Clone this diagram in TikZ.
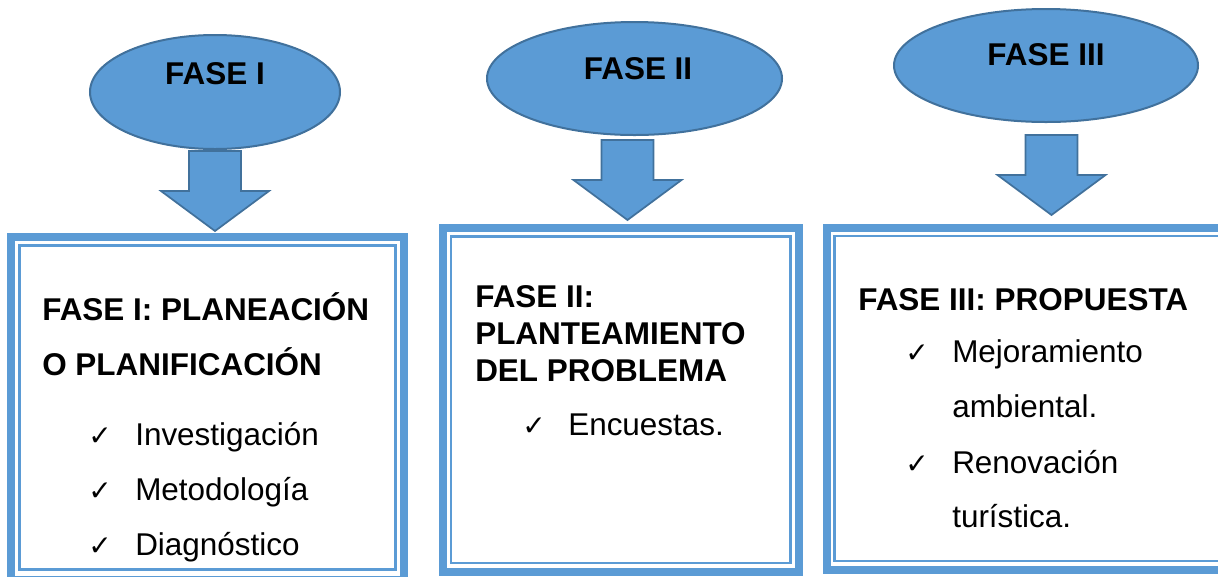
\documentclass[tikz,border=0pt]{standalone}
\usepackage{fontspec}
\setmainfont{Liberation Sans}
\newfontfamily\chkfont{DejaVu Sans}
\usetikzlibrary{shapes.geometric}
\definecolor{fillblue}{HTML}{5B9BD5}
\definecolor{edgeblue}{HTML}{41719C}
\tikzset{
  phase/.style={ellipse, draw=edgeblue, fill=fillblue, line width=1.5pt, inner sep=0pt},
  phasetxt/.style={anchor=base, inner sep=0pt, font=\fontsize{23.6}{28}\selectfont\bfseries},
  titletxt/.style={anchor=base west, inner sep=0pt, font=\fontsize{23.6}{28}\selectfont\bfseries},
  itemtxt/.style={anchor=base west, inner sep=0pt, font=\fontsize{23.6}{28}\selectfont},
  chkmark/.style={anchor=base west, inner sep=0pt, font=\chkfont\fontsize{21}{24}\selectfont},
  outerframe/.style={draw=fillblue, line width=6pt},
  innerframe/.style={draw=fillblue, line width=1.9pt},
  blockarrow/.style={draw=edgeblue, fill=fillblue, line width=1.3pt, line join=miter},
  downarr/.pic={\path[blockarrow] (-26,0) -- (26,0) -- (26,40) -- (54,40) -- (0,80) -- (-54,40) -- (-26,40) -- cycle;}
}
\begin{document}
\begin{tikzpicture}[x=0.75pt, y=-0.75pt]
\useasboundingbox (0,0) rectangle (1218,576);
\clip (0,0) rectangle (1218,576);

% ellipses
\node[phase, minimum width=187.5pt, minimum height=85.5pt] (e1) at (215,92) {};
\node[phase, minimum width=221.25pt, minimum height=84.75pt] (e2) at (634.5,78.5) {};
\node[phase, minimum width=228pt, minimum height=84.75pt] (e3) at (1046,65.5) {};
\node[phasetxt] (e1t) at (215,84) {FASE I};
\node[phasetxt] (e2t) at (638,79) {FASE II};
\node[phasetxt] (e3t) at (1046,65) {FASE III};

% block arrows
\coordinate (a1) at (215,151);
\coordinate (a2) at (627.5,140);
\coordinate (a3) at (1051.5,135);
\pic at (a1) {downarr};
\pic at (a2) {downarr};
\pic at (a3) {downarr};

% boxes
\coordinate (b1a) at (11,237);   \coordinate (b1b) at (404,580);
\coordinate (b1c) at (19.5,245.5); \coordinate (b1d) at (395.5,569.5);
\coordinate (b2a) at (443,228);  \coordinate (b2b) at (798.5,571.5);
\coordinate (b2c) at (451,236.5); \coordinate (b2d) at (790.5,563);
\coordinate (b3a) at (827,228);  \coordinate (b3b) at (1232,569.5);
\coordinate (b3c) at (834.5,236); \coordinate (b3d) at (1224,561);
\draw[outerframe] (b1a) rectangle (b1b);
\draw[innerframe] (b1c) rectangle (b1d);
\draw[outerframe] (b2a) rectangle (b2b);
\draw[innerframe] (b2c) rectangle (b2d);
\draw[outerframe] (b3a) rectangle (b3b);
\draw[innerframe] (b3c) rectangle (b3d);

% box 1 text
\node[titletxt] (t1a) at (42,320) {FASE I: PLANEACIÓN};
\node[titletxt] (t1b) at (42,375) {O PLANIFICACIÓN};
\node[chkmark] (c1a) at (88,445) {✓};
\node[itemtxt] (i1a) at (135,445) {Investigación};
\node[chkmark] (c1b) at (88,500) {✓};
\node[itemtxt] (i1b) at (135,500) {Metodología};
\node[chkmark] (c1c) at (88,555) {✓};
\node[itemtxt] (i1c) at (135,555) {Diagnóstico};

% box 2 text
\node[titletxt] (t2a) at (475,307) {FASE II:};
\node[titletxt] (t2b) at (475,344) {PLANTEAMIENTO};
\node[titletxt] (t2c) at (475,381) {DEL PROBLEMA};
\node[chkmark] (c2a) at (522,435) {✓};
\node[itemtxt] (i2a) at (568,435) {Encuestas.};

% box 3 text
\node[titletxt] (t3a) at (858,310) {FASE III: PROPUESTA};
\node[chkmark] (c3a) at (905,362) {✓};
\node[itemtxt] (i3a) at (952,362) {Mejoramiento};
\node[itemtxt] (i3b) at (952,417) {ambiental.};
\node[chkmark] (c3b) at (905,473) {✓};
\node[itemtxt] (i3c) at (952,473) {Renovación};
\node[itemtxt] (i3d) at (952,527) {turística.};
\end{tikzpicture}
\end{document}
